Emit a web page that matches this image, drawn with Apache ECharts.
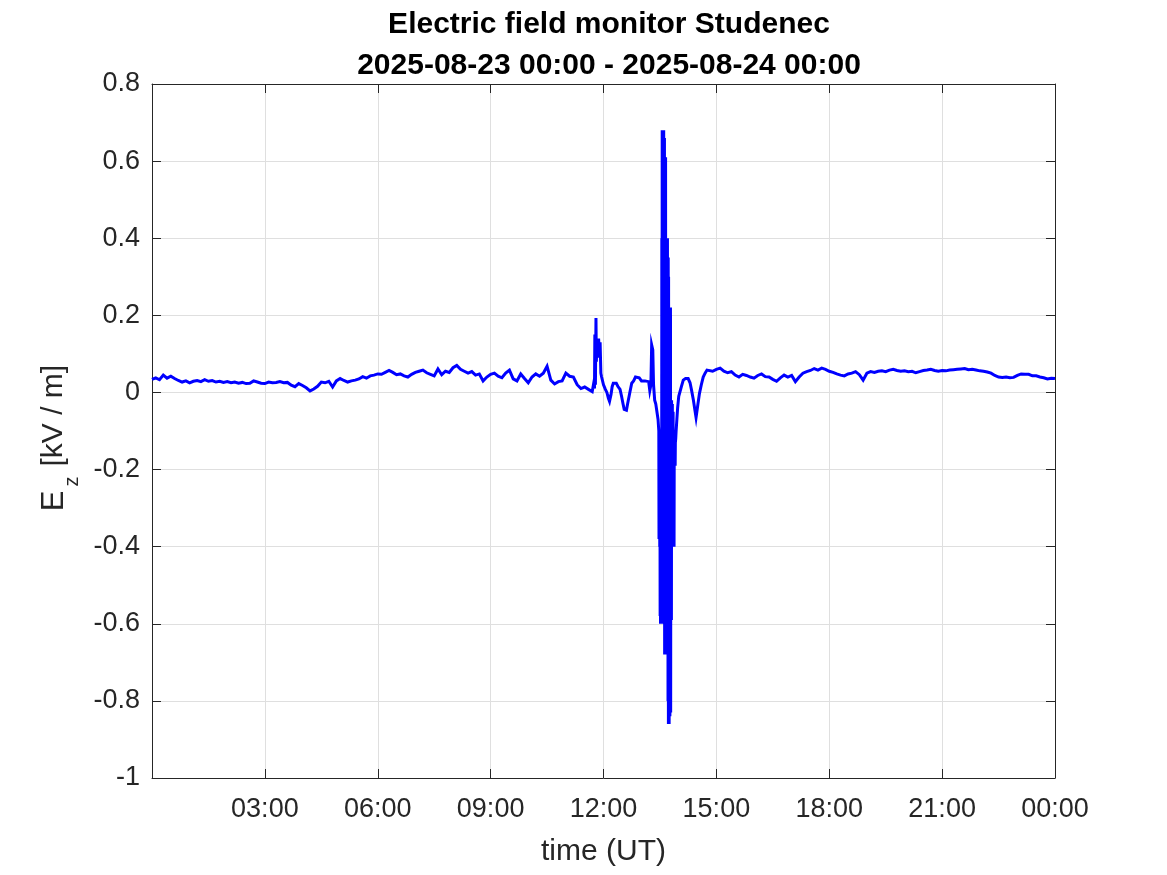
<!DOCTYPE html>
<html>
<head>
<meta charset="utf-8">
<script src="https://cdn.jsdelivr.net/npm/echarts@6/dist/echarts.min.js"></script>
<style>
html,body{margin:0;padding:0;background:#fff;}
#chart{width:1167px;height:875px;}
</style>
</head>
<body>
<div id="chart"></div>
<script>
// ---------------- DATA ----------------
const titleLines = ['Electric field monitor Studenec', '2025-08-23 00:00 - 2025-08-24 00:00'];
const xAxisTitle = 'time (UT)';
const yTicks = [-1, -0.8, -0.6, -0.4, -0.2, 0, 0.2, 0.4, 0.6, 0.8];
const xTickHours = [0, 3, 6, 9, 12, 15, 18, 21, 24];

// Morning: regular samples, start 00:00, every 0.1 h (kV/m)
const morningStartHour = 0;
const morningStepHours = 0.1;
const morningValues = [
  0.034,0.038,0.033,0.045,0.037,0.042,0.036,0.031,0.027,0.030,
  0.025,0.029,0.031,0.028,0.033,0.029,0.031,0.027,0.029,0.026,
  0.028,0.025,0.027,0.024,0.026,0.023,0.024,0.030,0.027,0.024,
  0.023,0.027,0.025,0.026,0.028,0.025,0.026,0.019,0.015,0.023,
  0.018,0.012,0.004,0.009,0.016,0.027,0.025,0.029,0.014,0.030,
  0.036,0.031,0.027,0.030,0.032,0.035,0.041,0.037,0.043,0.045,
  0.048,0.047,0.052,0.057,0.052,0.046,0.048,0.043,0.040,0.047,
  0.052,0.055,0.058,0.051,0.047,0.043,0.061,0.046,0.055,0.052,
  0.064,0.070,0.060,0.055,0.050,0.054,0.045,0.048,0.030,0.040,
  0.047,0.050,0.042,0.038,0.050,0.058,0.035,0.030,0.048,0.036,
  0.025,0.040,0.048,0.042,0.050,0.068,0.032,0.022,0.028,0.030,
  0.050,0.042,0.040,0.020,0.010,0.014,0.008,0.002
];

// Active period (storm) 11:44 - 14:45: [hour, kV/m]
const activeSamples = [
  [11.74,0.024],[11.76,0.010],[11.77,0.150],[11.785,0.020],[11.80,0.193],[11.81,0.080],
  [11.83,0.140],[11.85,0.090],[11.87,0.140],[11.89,0.100],[11.91,0.130],[11.93,0.050],
  [11.95,0.040],[12.00,0.020],[12.05,0.008],[12.09,0.000],[12.13,-0.015],[12.16,-0.023],
  [12.20,-0.005],[12.23,0.015],[12.26,0.024],[12.30,0.026],[12.34,0.024],[12.38,0.016],
  [12.41,0.012],[12.44,0.008],[12.48,-0.010],[12.52,-0.030],[12.55,-0.044],[12.58,-0.040],
  [12.61,-0.046],[12.64,-0.030],[12.66,-0.028],[12.70,0.000],[12.75,0.024],[12.80,0.030],
  [12.85,0.040],[12.90,0.043],[12.95,0.038],[13.01,0.030],[13.05,0.027],[13.10,0.030],
  [13.15,0.025],[13.20,0.028],[13.23,0.005],[13.26,0.020],[13.28,0.123],[13.31,0.110],
  [13.33,0.020],[13.36,-0.020],[13.39,-0.030],[13.42,-0.050],[13.45,-0.070],
  [13.470,-0.10],[13.475,-0.38],[13.480,-0.12],[13.485,-0.36],[13.490,-0.10],[13.495,-0.40],
  [13.500,-0.15],[13.505,-0.58],[13.510,-0.12],[13.515,-0.60],[13.520,-0.14],[13.525,-0.57],
  [13.530,-0.10],[13.535,-0.60],[13.540,-0.20],[13.545,-0.59],[13.550,0.40],[13.555,-0.58],
  [13.560,0.68],[13.565,-0.60],[13.570,0.65],[13.575,-0.52],[13.580,0.68],[13.585,-0.55],
  [13.590,0.62],[13.595,-0.50],[13.600,0.68],[13.605,-0.54],[13.610,0.55],[13.615,-0.55],
  [13.620,0.66],[13.625,-0.68],[13.630,0.61],[13.635,-0.66],[13.640,0.58],[13.645,-0.68],
  [13.650,0.61],[13.655,-0.62],[13.660,0.40],[13.665,-0.68],[13.670,0.38],[13.675,-0.66],
  [13.680,0.40],[13.685,-0.57],[13.690,0.30],[13.695,-0.58],[13.700,0.40],[13.705,-0.55],
  [13.710,0.34],[13.715,-0.80],[13.720,0.35],[13.725,-0.86],[13.730,0.30],[13.735,-0.70],
  [13.740,0.22],[13.745,-0.86],[13.750,0.20],[13.755,-0.75],[13.760,0.22],[13.765,-0.84],
  [13.770,0.15],[13.775,-0.83],[13.780,0.22],[13.785,-0.83],[13.790,-0.02],[13.795,-0.59],
  [13.800,-0.05],[13.805,-0.59],[13.810,-0.02],[13.815,-0.40],[13.820,-0.06],[13.825,-0.40],
  [13.830,-0.03],[13.835,-0.40],[13.840,-0.08],[13.845,-0.40],[13.850,-0.05],[13.855,-0.38],
  [13.860,-0.10],[13.865,-0.35],[13.870,-0.12],[13.875,-0.40],[13.880,-0.14],[13.885,-0.19],
  [13.890,-0.15],[13.895,-0.19],[13.900,-0.14],[13.905,-0.19],[13.910,-0.13],[13.920,-0.12],
  [13.930,-0.10],[13.950,-0.07],[13.970,-0.04],[13.990,-0.02],
  [14.00,-0.010],[14.03,-0.007],[14.07,0.015],[14.12,0.032],[14.18,0.036],[14.25,0.036],
  [14.30,0.025],[14.34,0.006],[14.39,-0.020],[14.43,-0.046],[14.46,-0.065],[14.48,-0.062],
  [14.51,-0.030],[14.55,-0.003],[14.60,0.020],[14.65,0.040],[14.70,0.050],[14.75,0.058]
];

// Evening: regular samples, start 14:48, every 0.1 h (kV/m)
const eveningStartHour = 14.8;
const eveningStepHours = 0.1;
const eveningValues = [
  0.062,0.055,0.060,0.063,0.055,0.051,0.054,0.045,0.040,0.047,
  0.044,0.040,0.037,0.044,0.048,0.041,0.040,0.034,0.029,0.038,
  0.045,0.040,0.044,0.028,0.040,0.050,0.054,0.057,0.062,0.058,
  0.063,0.060,0.055,0.052,0.048,0.045,0.043,0.048,0.050,0.054,
  0.046,0.032,0.050,0.054,0.052,0.055,0.056,0.054,0.058,0.060,
  0.057,0.055,0.056,0.054,0.055,0.051,0.054,0.057,0.058,0.060,
  0.057,0.055,0.057,0.056,0.058,0.059,0.060,0.061,0.062,0.059,
  0.060,0.058,0.056,0.055,0.053,0.050,0.044,0.040,0.039,0.040,
  0.038,0.039,0.044,0.048,0.047,0.047,0.043,0.043,0.040,0.038,
  0.035,0.037,0.036
];

// ---------------- BUILD ----------------
const series = [];
morningValues.forEach((v, i) => series.push([+(morningStartHour + i * morningStepHours).toFixed(3), v]));
activeSamples.forEach(p => series.push([p[0], p[1]]));
eveningValues.forEach((v, i) => series.push([+(eveningStartHour + i * eveningStepHours).toFixed(3), v]));

const FONT = 'Liberation Sans, Arial, Helvetica, sans-serif';
const AX = '#262626';
const GRIDC = '#dfdfdf';

function hourLabel(v) {
  if (v === 0) return '';
  const h = Math.round(v) % 24;
  return (h < 10 ? '0' + h : '' + h) + ':00';
}

const chart = echarts.init(document.getElementById('chart'), null, {renderer: 'canvas'});
const xMin = xTickHours[0], xMax = xTickHours[xTickHours.length - 1];
const xInt = xTickHours[1] - xTickHours[0];
const yMin = yTicks[0], yMax = yTicks[yTicks.length - 1];
const yInt = 0.2;

chart.setOption({
  animation: false,
  backgroundColor: '#ffffff',
  title: {
    text: titleLines.join('\n'),
    left: 604,
    top: -1,
    textAlign: 'center',
    textStyle: {fontFamily: FONT, fontSize: 30, fontWeight: 'bold', color: '#000', lineHeight: 41}
  },
  grid: {left: 152, right: 112, top: 84, bottom: 97, containLabel: false},
  xAxis: [{
    type: 'value', min: xMin, max: xMax, interval: xInt, position: 'bottom',
    name: xAxisTitle, nameLocation: 'middle', nameGap: 59,
    nameTextStyle: {fontFamily: FONT, fontSize: 30, color: AX},
    axisLine: {show: true, onZero: false, lineStyle: {color: AX, width: 1}},
    axisTick: {show: true, inside: true, length: 9, lineStyle: {color: AX}},
    axisLabel: {show: true, margin: 18, fontFamily: FONT, fontSize: 27, color: AX,
      formatter: hourLabel, showMinLabel: true, showMaxLabel: true},
    splitLine: {show: true, lineStyle: {color: GRIDC, width: 1}}
  }, {
    type: 'value', min: xMin, max: xMax, interval: xInt, position: 'top',
    axisLine: {show: true, onZero: false, lineStyle: {color: AX, width: 1}},
    axisTick: {show: true, inside: true, length: 9, lineStyle: {color: AX}},
    axisLabel: {show: false}, splitLine: {show: false}
  }],
  yAxis: [{
    type: 'value', min: yMin, max: yMax, interval: yInt, position: 'left',
    name: '{e|E}{s|z}{u|[kV / m]}', nameLocation: 'middle', nameRotate: 90, nameGap: 68,
    nameTextStyle: {fontFamily: FONT, fontSize: 30, color: AX, padding: [0, 14, 0, 0],
      rich: {
        e: {fontFamily: FONT, fontSize: 31, color: AX, lineHeight: 34, verticalAlign: 'top'},
        s: {fontFamily: FONT, fontSize: 20, color: AX, lineHeight: 44, verticalAlign: 'bottom', padding: [0, 10, 0, 4]},
        u: {fontFamily: FONT, fontSize: 30, color: AX, lineHeight: 34, verticalAlign: 'top'}
      }},
    axisLine: {show: true, onZero: false, lineStyle: {color: AX, width: 1}},
    axisTick: {show: true, inside: true, length: 9, lineStyle: {color: AX}},
    axisLabel: {show: true, margin: 12, fontFamily: FONT, fontSize: 27, color: AX,
      formatter: v => String(+v.toFixed(1))},
    splitLine: {show: true, lineStyle: {color: GRIDC, width: 1}}
  }, {
    type: 'value', min: yMin, max: yMax, interval: yInt, position: 'right',
    axisLine: {show: true, onZero: false, lineStyle: {color: AX, width: 1}},
    axisTick: {show: true, inside: true, length: 9, lineStyle: {color: AX}},
    axisLabel: {show: false}, splitLine: {show: false}
  }],
  series: [{
    type: 'line', xAxisIndex: 0, yAxisIndex: 0,
    data: series, showSymbol: false, symbol: 'none', sampling: null,
    lineStyle: {color: '#0000ff', width: 3, join: 'miter'},
    z: 5
  }]
});
</script>
</body>
</html>
